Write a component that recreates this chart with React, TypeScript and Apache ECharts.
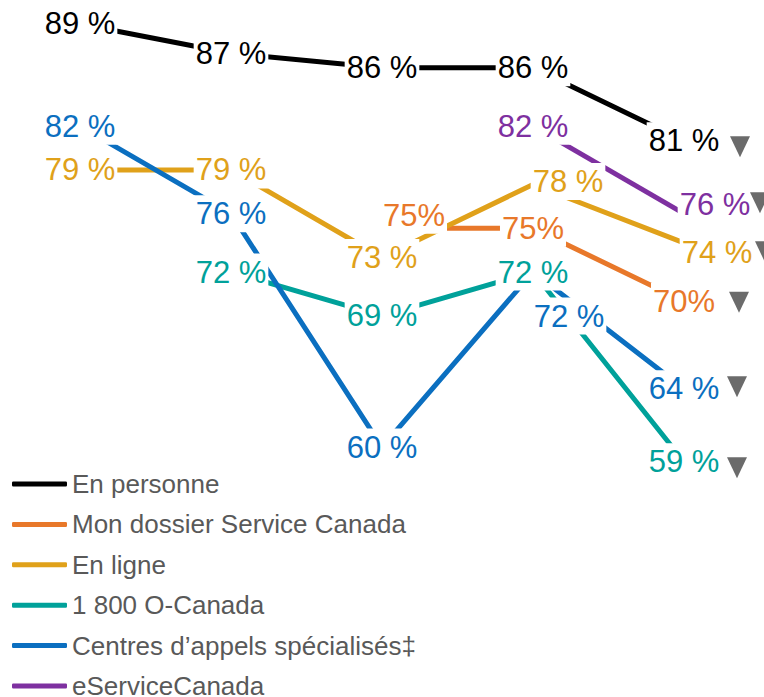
import React, { useEffect, useRef } from "react";
import * as echarts from "echarts";

const categories = ["2018-2019", "2019-2020", "2020-2021", "2021-2022", "2022-2023"];
const seriesNames = [
  "En personne",
  "Mon dossier Service Canada",
  "En ligne",
  "1 800 O-Canada",
  "Centres d’appels spécialisés‡",
  "eServiceCanada",
];
const enPersonne = [89, 87, 86, 86, 81];
const monDossier = [null, null, 75, 75, 70];
const enLigne = [79, 79, 73, 78, 74];
const oCanada = [null, 72, 69, 72, 59];
const centres = [82, 76, 60, 72, 64];
const eService = [null, null, null, 82, 76];
const seriesValues = [enPersonne, monDossier, enLigne, oCanada, centres, eService];
const labelSuffix = [" %", "%", " %", " %", " %", " %"];

// styling
const colors = ["#000000", "#E8782A", "#E0A11A", "#00A19A", "#0B6FC0", "#7E30A0"];
// label offsets (px) for labels not centred on their point: [seriesIndex, categoryIndex, dx, dy]
const labelOffsets: [number, number, number, number][] = [
  [1, 2, 32, -13],
  [2, 3, 35, -3],
  [4, 3, 36, 44],
  [5, 4, 31, -9],
  [2, 4, 33, 10],
];
// triangle offsets (px) relative to the last point of each series
const triOffsets: [number, number][] = [
  [56, 6],
  [55, 1],
  [81, 9],
  [53, 6],
  [53, -2],
  [76, -11],
];

const FONT = "'Liberation Sans', Arial, sans-serif";

export default function App() {
  const ref = useRef<HTMLDivElement>(null);
  useEffect(() => {
    if (!ref.current) return;
    const chart = echarts.init(ref.current, null, { renderer: "svg" });
    const series: any[] = [];
    seriesValues.forEach((vals, si) => {
      series.push({
        name: seriesNames[si],
        type: "line",
        data: vals,
        color: colors[si],
        symbol: "none",
        connectNulls: false,
        lineStyle: { width: 5, color: colors[si] },
        itemStyle: { color: colors[si] },
        z: 2,
      });
    });
    seriesValues.forEach((vals, si) => {
      const data: any[] = [];
      vals.forEach((v, ci) => {
        if (v == null) return;
        const off = labelOffsets.find((o) => o[0] === si && o[1] === ci);
        data.push({
          value: [ci, v],
          label: { offset: off ? [off[2], off[3]] : [0, 0] },
        });
      });
      series.push({
        name: "lbl" + si,
        type: "scatter",
        data,
        symbolSize: 1,
        itemStyle: { color: "rgba(0,0,0,0)", opacity: 1 },
        silent: true,
        z: 5,
        label: {
          show: true,
          position: "inside",
          formatter: (p: any) => p.value[1] + labelSuffix[si],
          color: colors[si],
          opacity: 1,
          fontFamily: FONT,
          fontSize: 31,
          backgroundColor: "#ffffff",
          padding: [3, 2],
        },
      });
    });
    const triData = seriesValues.map((vals, si) => {
      const last = vals.length - 1;
      return {
        value: [last, vals[last]],
        symbolOffset: triOffsets[si],
      };
    });
    series.push({
      name: "tri",
      type: "scatter",
      data: triData,
      symbol: "triangle",
      symbolRotate: 180,
      symbolSize: [20, 21],
      itemStyle: { color: "#6B6B6B", opacity: 1 },
      silent: true,
      z: 6,
    });

    chart.setOption({
      animation: false,
      grid: { left: 4.5, right: 4.5, top: 9.4, bottom: 220.7, containLabel: false },
      xAxis: { type: "category", data: categories, show: false, boundaryGap: true },
      yAxis: { type: "value", min: 58, max: 90, show: false },
      legend: {
        orient: "vertical",
        left: 12,
        top: 471,
        height: 400,
        padding: 0,
        itemWidth: 55,
        itemHeight: 5,
        itemGap: 14.4,
        icon: "roundRect",
        selectedMode: false,
        data: seriesNames,
        textStyle: { fontFamily: FONT, fontSize: 26, color: "#595959" },
      },
      series,
    });
    return () => chart.dispose();
  }, []);
  return (
    <div
      ref={ref}
      style={{ position: "fixed", left: 0, top: 0, width: 764, height: 697, background: "#fff" }}
    />
  );
}
